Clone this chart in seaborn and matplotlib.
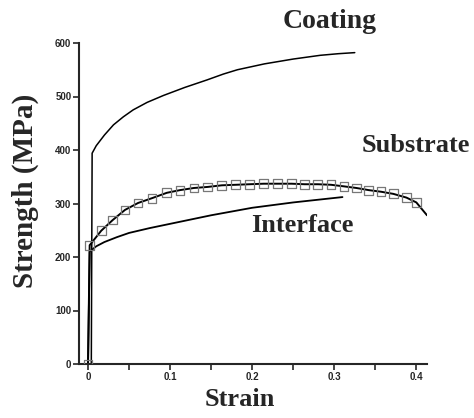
import matplotlib
matplotlib.use("Agg")
import matplotlib.pyplot as plt
import seaborn as sns
import pandas as pd
from matplotlib.ticker import MultipleLocator

# ---- data ----
coating_strain = [0.004, 0.005, 0.010, 0.020, 0.031, 0.043, 0.055, 0.072, 0.092, 0.118, 0.145,
                  0.165, 0.182, 0.215, 0.250, 0.283, 0.305, 0.325]
coating_stress = [0, 394, 408, 428, 447, 462, 475, 489, 502, 517, 531,
                  542, 550, 561, 570, 577, 580, 582]

substrate_strain = [0.0, 0.002, 0.016, 0.030, 0.045, 0.061, 0.078, 0.096, 0.112, 0.129, 0.146,
                    0.163, 0.180, 0.197, 0.214, 0.231, 0.248, 0.264, 0.280, 0.296, 0.312,
                    0.327, 0.342, 0.357, 0.372, 0.388, 0.400, 0.413]
substrate_stress = [0, 222, 249, 269, 288, 301, 310, 320, 325, 329, 331,
                    334, 335, 336, 337, 337, 337, 336, 336, 335, 332,
                    329, 325, 322, 318, 311, 302, 278]
n_substrate_markers = 27  # last point is the curve end, no marker

interface_strain = [0.0, 0.002, 0.010, 0.020, 0.035, 0.050, 0.075, 0.100, 0.150, 0.200, 0.250, 0.310]
interface_stress = [0, 210, 220, 228, 237, 245, 254, 262, 278, 292, 302, 312]

x_ticks = [0, 0.1, 0.2, 0.3, 0.4]
x_tick_labels = ["0", "0.1", "0.2", "0.3", "0.4"]
y_ticks = [0, 100, 200, 300, 400, 500, 600]

sns.set_style("ticks")
plt.rcParams['font.family'] = ['Liberation Sans', 'DejaVu Sans']

W, H = 474, 418
fig = plt.figure(figsize=(W / 100, H / 100), dpi=100)
ax = fig.add_axes([79 / W, 1 - 364 / H, (427 - 79) / W, (364 - 43) / H])

coat = pd.DataFrame({"strain": coating_strain, "stress": coating_stress})
sub = pd.DataFrame({"strain": substrate_strain, "stress": substrate_stress})
itf = pd.DataFrame({"strain": interface_strain, "stress": interface_stress})

sns.lineplot(data=coat, x="strain", y="stress", ax=ax, color="black", lw=1.1,
             sort=False, estimator=None)
sns.lineplot(data=itf, x="strain", y="stress", ax=ax, color="black", lw=1.3,
             sort=False, estimator=None)
sns.lineplot(data=sub, x="strain", y="stress", ax=ax, color="black", lw=1.4,
             sort=False, estimator=None)
sns.scatterplot(data=sub.iloc[:n_substrate_markers], x="strain", y="stress", ax=ax,
                marker="s", s=40, facecolor="none", edgecolor="#777777", linewidth=0.9,
                zorder=3)

ax.set_xlim(-0.011, 0.413)
ax.set_ylim(0, 600)
ax.set_xticks(x_ticks)
ax.set_xticklabels(x_tick_labels)
ax.xaxis.set_minor_locator(MultipleLocator(0.05))
ax.set_yticks(y_ticks)
ax.tick_params(axis="both", which="major", labelsize=7, length=4, width=1.2, pad=1.5)
ax.tick_params(axis="x", which="minor", length=4, width=1.2)
for lbl in ax.get_xticklabels() + ax.get_yticklabels():
    lbl.set_fontweight("bold")
sns.despine(ax=ax)
for sp in ["left", "bottom"]:
    ax.spines[sp].set_linewidth(1.5)
ax.set_xlabel("")
ax.set_ylabel("")

serif = dict(family=["Liberation Serif", "DejaVu Serif"], weight="bold")
fig.text(240 / W, 1 - 400 / H, "Strain", ha="center", va="center", fontsize=19, **serif)
fig.text(25 / W, 1 - 191 / H, "Strength (MPa)", ha="center", va="center",
         rotation=90, fontsize=21, **serif)
fig.text(330 / W, 1 - 22 / H, "Coating", ha="center", va="center", fontsize=20, **serif)
fig.text(416 / W, 1 - 145 / H, "Substrate", ha="center", va="center", fontsize=19, **serif)
fig.text(302 / W, 1 - 225 / H, "Interface", ha="center", va="center", fontsize=19, **serif)

fig.savefig("out.png", dpi=100)
